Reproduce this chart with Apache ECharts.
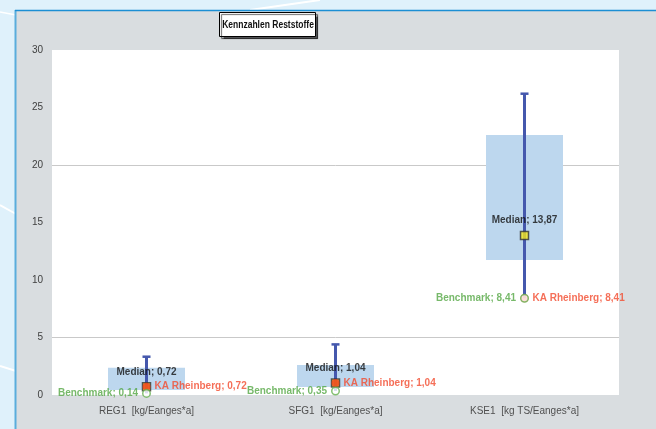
<!DOCTYPE html>
<html>
<head>
<meta charset="utf-8">
<script src="https://cdn.jsdelivr.net/npm/echarts@6/dist/echarts.min.js"></script>
<style>
  html, body { margin: 0; padding: 0; background: #dff1fb; }
  #chart { width: 656px; height: 429px; }
</style>
</head>
<body>
<div id="chart"></div>
<script>
// Kategorien und Werte
var categories = ['REG1  [kg/Eanges*a]', 'SFG1  [kg/Eanges*a]', 'KSE1  [kg TS/Eanges*a]'];
var boxLow = [0.43, 0.7, 11.74];
var boxHigh = [2.37, 2.6, 22.6];
var whiskerLow = [0.14, 0.35, 8.41];
var whiskerHigh = [3.33, 4.4, 26.2];
var median = [0.72, 1.04, 13.87];
var kaRheinberg = [0.72, 1.04, 8.41];
var benchmark = [0.14, 0.35, 8.41];
var yTicks = [0, 5, 10, 15, 20, 25, 30];
var chartTitle = 'Kennzahlen Reststoffe';

function fmt(v) {
  return v.toFixed(2).replace('.', ',');
}

var chart = echarts.init(document.getElementById('chart'));

var option = {
  animation: false,
  backgroundColor: '#dff1fb',
  textStyle: { fontFamily: 'Liberation Sans, Arial, sans-serif' },
  graphic: [
    // hintergrund-streifen
    { type: 'line', z: -10, shape: { x1: 0, y1: 12, x2: 16, y2: 15 }, style: { stroke: '#ffffff', lineWidth: 1.5 } },
    { type: 'line', z: -10, shape: { x1: 0, y1: 205, x2: 16, y2: 214 }, style: { stroke: '#ffffff', lineWidth: 2 } },
    { type: 'line', z: -10, shape: { x1: 0, y1: 366, x2: 16, y2: 371 }, style: { stroke: '#ffffff', lineWidth: 2 } },
    { type: 'line', z: -10, shape: { x1: 250, y1: 10, x2: 320, y2: 0 }, style: { stroke: '#ffffff', lineWidth: 2 } },
    // grauer rahmen
    { type: 'rect', z: -9, shape: { x: 16, y: 10, width: 640, height: 419 }, style: { fill: '#d9dde0' } },
    { type: 'line', z: -8, shape: { x1: 15.5, y1: 10, x2: 15.5, y2: 429 }, style: { stroke: '#5aaddc', lineWidth: 2 } },
    { type: 'line', z: -8, shape: { x1: 15, y1: 10.5, x2: 656, y2: 10.5 }, style: { stroke: '#1c8fd4', lineWidth: 1.5 } },
    // weisse plotflaeche
    { type: 'rect', z: -7, shape: { x: 52, y: 50, width: 567, height: 345 }, style: { fill: '#ffffff' } },
    // titelkasten (schmale schrift wie calibri)
    {
      type: 'rect', z: 10,
      shape: { x: 219.5, y: 12.5, width: 96, height: 24 },
      style: { fill: '#ffffff', stroke: '#000000', lineWidth: 1, shadowColor: 'rgba(0,0,0,0.6)', shadowOffsetX: 2, shadowOffsetY: 2, shadowBlur: 1 }
    },
    {
      type: 'text', z: 11,
      x: 268, y: 25,
      scaleX: 0.74,
      style: { text: chartTitle, fill: '#111', font: 'bold 11.5px Liberation Sans, sans-serif', align: 'center', verticalAlign: 'middle' }
    }
  ],
  grid: { left: 52, right: 37, top: 50, bottom: 34 },
  xAxis: {
    type: 'category',
    data: categories,
    axisLine: { show: false },
    axisTick: { show: false },
    axisLabel: { color: '#505050', fontSize: 10, margin: 11 }
  },
  yAxis: {
    type: 'value',
    min: yTicks[0],
    max: yTicks[yTicks.length - 1],
    interval: 5,
    axisLine: { show: false },
    axisTick: { show: false },
    axisLabel: { color: '#404040', fontSize: 10, margin: 9 },
    splitLine: {
      lineStyle: {
        color: ['rgba(0,0,0,0)', '#c9c9c9', 'rgba(0,0,0,0)', 'rgba(0,0,0,0)', '#c9c9c9', 'rgba(0,0,0,0)', 'rgba(0,0,0,0)'],
        width: 1
      }
    }
  },
  series: [
    {
      name: 'base',
      type: 'bar',
      stack: 'box',
      barWidth: 77,
      silent: true,
      itemStyle: { color: 'rgba(0,0,0,0)' },
      data: boxLow
    },
    {
      name: 'box',
      type: 'bar',
      stack: 'box',
      barWidth: 77,
      itemStyle: { color: '#bdd7ee' },
      data: boxHigh.map(function (h, i) { return +(h - boxLow[i]).toFixed(2); })
    },
    {
      name: 'whisker',
      type: 'custom',
      z: 3,
      data: categories.map(function (c, i) { return [i, whiskerLow[i], whiskerHigh[i]]; }),
      renderItem: function (params, api) {
        var lo = api.coord([api.value(0), api.value(1)]);
        var hi = api.coord([api.value(0), api.value(2)]);
        return {
          type: 'group',
          children: [
            { type: 'line', shape: { x1: lo[0], y1: lo[1], x2: hi[0], y2: hi[1] }, style: { stroke: '#4558ad', lineWidth: 3 } },
            { type: 'line', shape: { x1: hi[0] - 4, y1: hi[1], x2: hi[0] + 4, y2: hi[1] }, style: { stroke: '#4558ad', lineWidth: 2.5 } }
          ]
        };
      }
    },
    {
      name: 'Median',
      type: 'scatter',
      z: 4,
      symbol: 'rect',
      symbolSize: 8,
      itemStyle: { color: '#f5e61c', borderColor: '#333', borderWidth: 1.5 },
      label: {
        show: true,
        position: 'top',
        distance: 5,
        color: '#111',
        fontSize: 10,
        fontWeight: 'bold',
        formatter: function (p) { return 'Median; ' + fmt(p.value); }
      },
      data: median
    },
    {
      name: 'KA Rheinberg',
      type: 'scatter',
      z: 5,
      symbol: 'circle',
      symbolSize: 8,
      itemStyle: { color: '#f03a1c' },
      label: {
        show: true,
        position: 'right',
        distance: 4,
        color: '#f24b2e',
        fontSize: 10,
        fontWeight: 'bold',
        formatter: function (p) { return 'KA Rheinberg; ' + fmt(p.value); }
      },
      data: kaRheinberg
    },
    {
      name: 'Benchmark',
      type: 'scatter',
      z: 6,
      symbol: 'circle',
      symbolSize: 7.5,
      itemStyle: { color: '#ffffff', borderColor: '#66b050', borderWidth: 1.5 },
      label: {
        show: true,
        position: 'left',
        distance: 4,
        color: '#55a845',
        fontSize: 10,
        fontWeight: 'bold',
        formatter: function (p) { return 'Benchmark; ' + fmt(p.value); }
      },
      data: benchmark
    }
  ]
};

chart.setOption(option);
</script>
</body>
</html>
